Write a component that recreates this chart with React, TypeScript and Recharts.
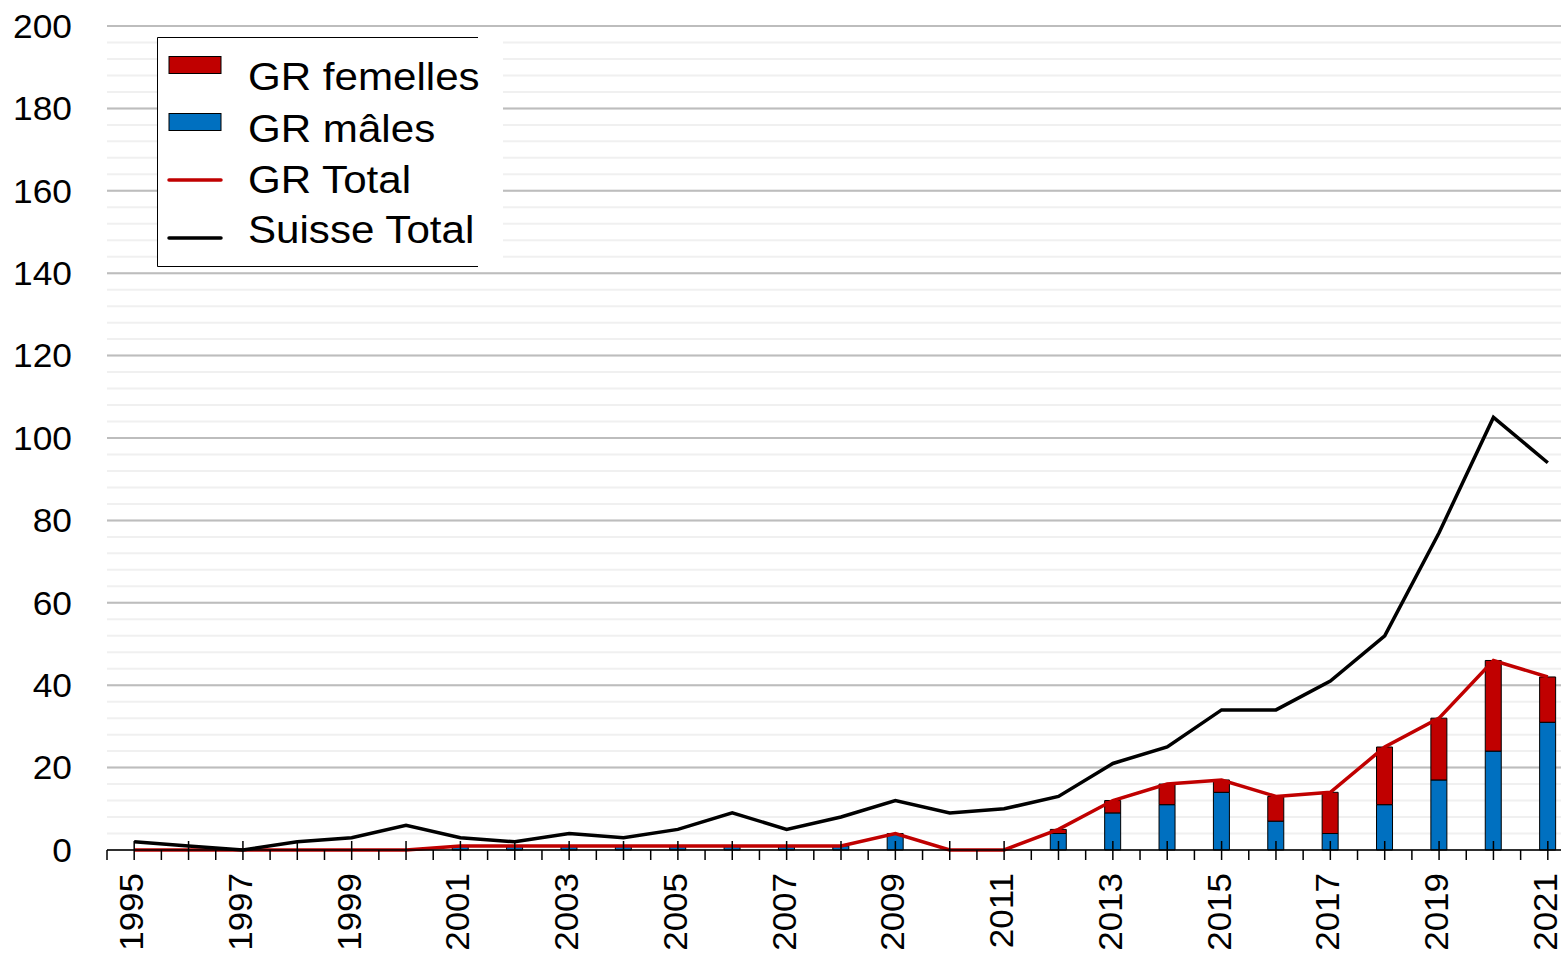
import React from "react"
import { ComposedChart, Bar, Line, XAxis, YAxis, CartesianGrid } from "recharts"

const YEARS = [1995,1996,1997,1998,1999,2000,2001,2002,2003,2004,2005,2006,2007,2008,2009,2010,2011,2012,2013,2014,2015,2016,2017,2018,2019,2020,2021]
const GR_MALES = [0,0,0,0,0,0,1,1,1,1,1,1,1,1,4,0,0,4,9,11,14,7,4,11,17,24,31]
const GR_FEMELLES = [0,0,0,0,0,0,0,0,0,0,0,0,0,0,0,0,0,1,3,5,3,6,10,14,15,22,11]
const GR_TOTAL = [0,0,0,0,0,0,1,1,1,1,1,1,1,1,4,0,0,5,12,16,17,13,14,25,32,46,42]
const SUISSE_TOTAL = [2,1,0,2,3,6,3,2,4,3,5,9,5,8,12,9,10,13,21,25,34,34,41,52,77,105,94]
const Y_TICKS = [0,20,40,60,80,100,120,140,160,180,200]
const MINOR_GRID = Array.from({ length: 51 }, (_, i) => i * 4)

const RED = "#c00000"
const BLUE = "#0070c0"
const FONT = "'Liberation Sans', Arial, sans-serif"

const CHART_W = 1575
const CHART_H = 956
const Y_AXIS_W = 107
const STEP = (CHART_W - Y_AXIS_W) / YEARS.length

const data = YEARS.map((year, i) => ({
  year,
  males: GR_MALES[i],
  femelles: GR_FEMELLES[i],
  grTotal: GR_TOTAL[i],
  suisse: SUISSE_TOTAL[i],
}))

function YTick({ x, y, payload }: any) {
  return (
    <text
      transform={`translate(${x},${y}) scale(1.07,1)`}
      textAnchor="end"
      dy="0.355em"
      fontSize={33}
      fontFamily={FONT}
      fill="#000"
    >
      {payload.value}
    </text>
  )
}

function XTick({ x, y, payload, index }: any) {
  const half = STEP / 2
  return (
    <g>
      <line x1={x} x2={x} y1={y - 9} y2={y + 10} stroke="#000" strokeWidth={1.5} />
      <line x1={x - half} x2={x - half} y1={y} y2={y + 10} stroke="#000" strokeWidth={1.5} />
      {index % 2 === 0 && (
        <text
          transform={`translate(${x + 9},${y + 23}) rotate(-90) scale(1.06,1)`}
          textAnchor="end"
          fontSize={33}
          fontFamily={FONT}
          fill="#000"
        >
          {payload.value}
        </text>
      )}
    </g>
  )
}

const LEGEND = [
  { label: "GR femelles", kind: "bar", color: RED, sy: 65, ty: 90 },
  { label: "GR mâles", kind: "bar", color: BLUE, sy: 122, ty: 142 },
  { label: "GR Total", kind: "line", color: RED, sy: 180, ty: 193 },
  { label: "Suisse Total", kind: "line", color: "#000", sy: 238, ty: 243 },
]

function ChartLegend() {
  return (
    <svg width={520} height={280} style={{ position: "absolute", left: 0, top: 0 }}>
      <rect x={157} y={37} width={346} height={230} fill="#fff" />
      <path d="M478 37.5 H157.5 V266.5 H478" fill="none" stroke="#000" strokeWidth={1} />
      {LEGEND.map((it) => (
        <g key={it.label}>
          {it.kind === "bar" ? (
            <rect x={169} y={it.sy - 8.5} width={52} height={17} fill={it.color} stroke="#000" strokeWidth={1} />
          ) : (
            <line x1={169} x2={221} y1={it.sy} y2={it.sy} stroke={it.color} strokeWidth={3.5} strokeLinecap="round" />
          )}
          <text
            transform={`translate(248,${it.ty}) scale(1.08,1)`}
            fontSize={39}
            fontFamily={FONT}
            fill="#000"
          >
            {it.label}
          </text>
        </g>
      ))}
    </svg>
  )
}

export default function App() {
  return (
    <div style={{ position: "absolute", left: 0, top: 0, width: 1561, height: 956, overflow: "hidden", background: "#fff" }}>
      <ComposedChart
        width={CHART_W}
        height={CHART_H}
        data={data}
        margin={{ top: 26, right: 0, bottom: 0, left: 0 }}
        barGap={0}
      >
        <CartesianGrid horizontalValues={MINOR_GRID} vertical={false} stroke="#f0f0f0" strokeWidth={2} />
        <CartesianGrid horizontalValues={Y_TICKS} vertical={false} stroke="#bdbdbd" strokeWidth={2} />
        <YAxis
          domain={[0, 200]}
          ticks={Y_TICKS}
          interval={0}
          width={Y_AXIS_W}
          axisLine={false}
          tickLine={false}
          tickSize={0}
          tickMargin={35}
          tick={<YTick />}
        />
        <XAxis
          dataKey="year"
          interval={0}
          height={106}
          tickLine={false}
          tickSize={0}
          tickMargin={0}
          axisLine={{ stroke: "#000", strokeWidth: 1.5 }}
          tick={<XTick />}
        />
        <Bar dataKey="males" stackId="gr" fill={BLUE} stroke="#000" strokeWidth={1} barSize={16} isAnimationActive={false} />
        <Bar dataKey="femelles" stackId="gr" fill={RED} stroke="#000" strokeWidth={1} barSize={16} isAnimationActive={false} />
        <Line dataKey="grTotal" stroke={RED} strokeWidth={3.5} dot={false} isAnimationActive={false} />
        <Line dataKey="suisse" stroke="#000" strokeWidth={3.5} dot={false} isAnimationActive={false} />
      </ComposedChart>
      <ChartLegend />
    </div>
  )
}
